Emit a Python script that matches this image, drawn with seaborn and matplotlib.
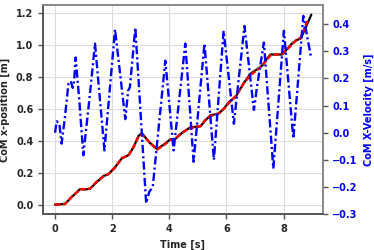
import numpy as np
import pandas as pd
import matplotlib
matplotlib.use("Agg")
import matplotlib.pyplot as plt
import seaborn as sns

# true CoM position [m]
t_pos = [0.00, 0.35, 0.60, 0.88, 1.05, 1.23, 1.45, 1.70, 1.87, 2.10, 2.34, 2.57,
         2.75, 2.92, 3.04, 3.30, 3.57, 3.80, 4.04, 4.20, 4.45, 4.74, 5.09, 5.25,
         5.44, 5.73, 5.90, 6.10, 6.32, 6.60, 6.84, 7.05, 7.25, 7.40, 7.54, 7.95,
         8.10, 8.30, 8.45, 8.60, 8.80, 8.97]
pos_true = [0.0, 0.005, 0.05, 0.098, 0.095, 0.10, 0.14, 0.18, 0.19, 0.235, 0.29, 0.31,
            0.36, 0.43, 0.448, 0.39, 0.348, 0.375, 0.41, 0.41, 0.45, 0.485, 0.49, 0.525,
            0.56, 0.57, 0.60, 0.645, 0.675, 0.76, 0.82, 0.845, 0.87, 0.91, 0.94, 0.94,
            0.97, 1.01, 1.03, 1.04, 1.12, 1.19]

# estimated CoM position [m]
t_est = [0.00, 0.35, 0.60, 0.88, 1.05, 1.23, 1.45, 1.70, 1.87, 2.10, 2.34, 2.57,
         2.75, 2.92, 3.04, 3.30, 3.57, 3.80, 4.04, 4.20, 4.45, 4.74, 5.09, 5.25,
         5.44, 5.73, 5.90, 6.10, 6.32, 6.60, 6.84, 7.05, 7.25, 7.40, 7.54, 7.95,
         8.10, 8.30, 8.45, 8.60, 8.83]
pos_est = [0.0, 0.004, 0.052, 0.096, 0.097, 0.101, 0.142, 0.178, 0.192, 0.232, 0.292, 0.308,
           0.362, 0.425, 0.44, 0.392, 0.345, 0.372, 0.405, 0.412, 0.452, 0.48, 0.492, 0.528,
           0.555, 0.572, 0.598, 0.64, 0.678, 0.758, 0.812, 0.84, 0.868, 0.905, 0.935, 0.945,
           0.968, 1.005, 1.03, 1.045, 1.15]

# CoM x-velocity [m/s]
t_vel = [0.00, 0.06, 0.15, 0.23, 0.35, 0.47, 0.55, 0.62, 0.67, 0.72, 0.85, 0.99,
         1.20, 1.40, 1.73, 1.95, 2.10, 2.46, 2.56, 2.62, 2.81, 3.19, 3.30, 3.42,
         3.86, 4.15, 4.56, 4.85, 5.23, 5.56, 5.90, 6.26, 6.63, 6.96, 7.07, 7.31,
         7.64, 8.01, 8.34, 8.69, 8.95]
vel = [0.00, 0.042, 0.035, -0.04, 0.06, 0.18, 0.19, 0.165, 0.19, 0.277, 0.12, -0.083,
       0.12, 0.328, -0.065, 0.20, 0.38, 0.05, 0.155, 0.167, 0.387, -0.26, -0.217, -0.20,
       0.265, -0.065, 0.328, -0.107, 0.328, -0.10, 0.375, 0.033, 0.393, 0.084, 0.17, 0.332,
       -0.132, 0.375, -0.022, 0.43, 0.283]

sns.set_style("ticks")
plt.rcParams['font.family'] = ['DejaVu Sans']
plt.rcParams['font.weight'] = 'bold'

fig, ax = plt.subplots(figsize=(3.74, 2.5), dpi=100)
fig.subplots_adjust(left=0.115, right=0.863, bottom=0.143, top=0.98)

sns.lineplot(x=t_pos, y=pos_true, sort=False, color="black", lw=1.6, ax=ax)
sns.lineplot(x=t_est, y=pos_est, sort=False, color="red", lw=1.8, ax=ax)
ax.lines[-1].set_dashes([2.2, 0.9])
ax.set_xlabel("Time [s]", fontsize=7, fontweight="bold")
ax.set_ylabel("CoM x-position [m]", fontsize=7, fontweight="bold")
ax.set_ylim(-0.06, 1.25)
ax.set_xlim(-0.42, 9.37)
ax.set_xticks([0, 2, 4, 6, 8])
ax.grid(True, color="#dcdcdc", lw=0.8)
ax.tick_params(labelsize=7, color="#555555", length=3.5, width=1)

ax2 = ax.twinx()
sns.lineplot(x=t_vel, y=vel, sort=False, color="blue", lw=1.7, ax=ax2)
ax2.lines[-1].set_dashes([3.5, 1.3, 0.9, 1.3])
ax2.set_ylim(-0.3, 0.47)
ax2.set_ylabel("CoM X-Velocity [m/s]", fontsize=7, fontweight="bold", color="blue")
ax2.tick_params(labelsize=7, colors="blue", length=3.5, width=1)
ax2.tick_params(axis="y", color="#555555")

for a in (ax, ax2):
    for s in a.spines.values():
        s.set_color("#888888")
        s.set_linewidth(1.2)
    a.spines["left"].set_color("#555555")
    a.spines["bottom"].set_color("#555555")
    for lbl in a.get_xticklabels() + a.get_yticklabels():
        lbl.set_fontweight("bold")

fig.savefig("out.png", dpi=100)
